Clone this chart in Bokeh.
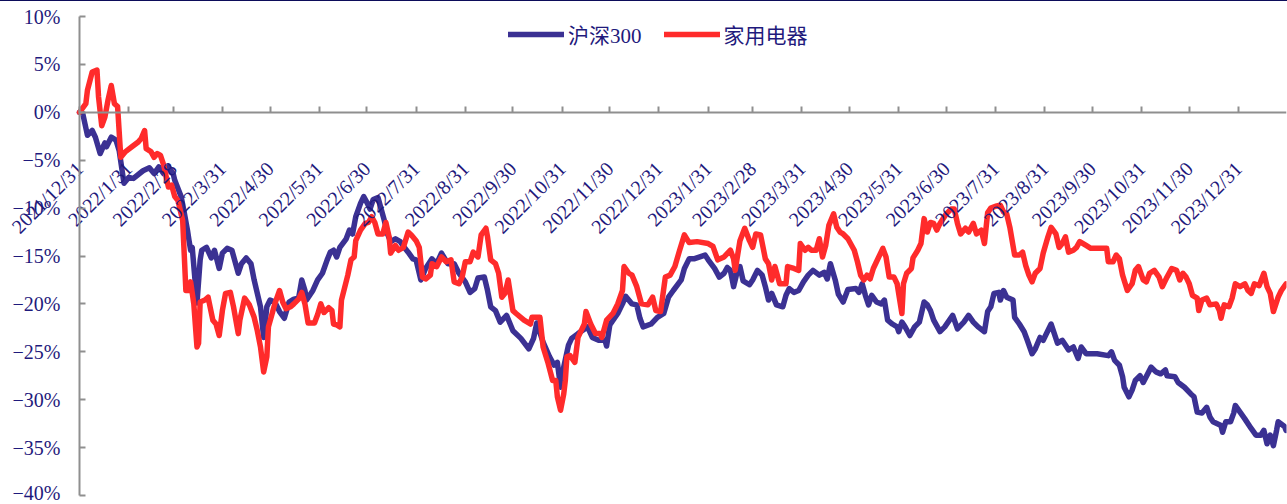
import math
import pandas as pd
from bokeh.plotting import figure
from bokeh.models import Range1d, FixedTicker, Legend, LegendItem, ColumnDataSource
from bokeh.embed import file_html
from bokeh.resources import INLINE

# Cumulative return since 2021-12-31, in percent
hs300_dates = [
    "2021-12-31",
    "2022-01-02", "2022-01-05", "2022-01-08", "2022-01-10", "2022-01-13", "2022-01-16", "2022-01-17", "2022-01-20", "2022-01-23", "2022-01-25", "2022-01-28", "2022-01-31",
    "2022-02-03", "2022-02-09", "2022-02-13", "2022-02-16", "2022-02-19", "2022-02-22", "2022-02-25", "2022-02-28",
    "2022-03-01", "2022-03-05", "2022-03-07", "2022-03-09", "2022-03-10", "2022-03-11", "2022-03-12", "2022-03-15", "2022-03-17", "2022-03-18", "2022-03-21", "2022-03-24", "2022-03-26", "2022-03-29", "2022-03-31",
    "2022-04-03", "2022-04-06", "2022-04-10", "2022-04-12", "2022-04-15", "2022-04-18", "2022-04-20", "2022-04-22", "2022-04-24", "2022-04-26", "2022-04-28", "2022-04-30",
    "2022-05-03", "2022-05-06", "2022-05-09", "2022-05-12", "2022-05-15", "2022-05-18", "2022-05-20", "2022-05-22", "2022-05-23", "2022-05-27", "2022-05-30",
    "2022-06-02", "2022-06-05", "2022-06-07", "2022-06-09", "2022-06-11", "2022-06-13", "2022-06-17", "2022-06-19", "2022-06-21", "2022-06-23", "2022-06-26", "2022-06-28", "2022-06-30",
    "2022-07-02", "2022-07-04", "2022-07-07", "2022-07-09", "2022-07-11", "2022-07-13", "2022-07-15", "2022-07-18", "2022-07-21", "2022-07-24", "2022-07-26", "2022-07-29", "2022-07-31",
    "2022-08-03", "2022-08-06", "2022-08-10", "2022-08-13", "2022-08-16", "2022-08-20", "2022-08-24", "2022-08-27", "2022-08-31",
    "2022-09-03", "2022-09-06", "2022-09-08", "2022-09-12", "2022-09-14", "2022-09-16", "2022-09-19", "2022-09-22", "2022-09-26", "2022-09-30",
    "2022-10-05", "2022-10-10", "2022-10-13", "2022-10-15", "2022-10-19", "2022-10-23", "2022-10-26", "2022-10-28", "2022-10-30",
    "2022-11-01", "2022-11-04", "2022-11-06", "2022-11-10", "2022-11-16", "2022-11-19", "2022-11-23", "2022-11-27", "2022-11-28", "2022-11-30",
    "2022-12-05", "2022-12-08", "2022-12-10", "2022-12-14", "2022-12-17", "2022-12-19", "2022-12-21", "2022-12-26", "2022-12-30",
    "2023-01-03", "2023-01-06", "2023-01-09", "2023-01-14", "2023-01-16", "2023-01-19", "2023-01-22", "2023-01-29", "2023-01-31",
    "2023-02-04", "2023-02-07", "2023-02-10", "2023-02-12", "2023-02-14", "2023-02-16", "2023-02-18", "2023-02-20", "2023-02-22", "2023-02-26", "2023-02-28",
    "2023-03-03", "2023-03-06", "2023-03-08", "2023-03-10", "2023-03-12", "2023-03-15", "2023-03-19", "2023-03-21", "2023-03-23", "2023-03-26", "2023-03-29",
    "2023-04-01", "2023-04-04", "2023-04-07", "2023-04-11", "2023-04-14", "2023-04-16", "2023-04-18", "2023-04-21", "2023-04-23", "2023-04-26", "2023-04-29",
    "2023-05-04", "2023-05-06", "2023-05-08", "2023-05-10", "2023-05-12", "2023-05-14", "2023-05-17", "2023-05-20", "2023-05-22", "2023-05-24", "2023-05-27", "2023-05-30", "2023-05-31",
    "2023-06-02", "2023-06-04", "2023-06-07", "2023-06-10", "2023-06-13", "2023-06-16", "2023-06-18", "2023-06-20", "2023-06-22", "2023-06-26", "2023-06-29",
    "2023-07-04", "2023-07-07", "2023-07-11", "2023-07-14", "2023-07-17", "2023-07-20", "2023-07-24", "2023-07-26", "2023-07-28", "2023-07-30",
    "2023-08-02", "2023-08-03", "2023-08-05", "2023-08-07", "2023-08-11", "2023-08-12", "2023-08-15", "2023-08-18", "2023-08-20", "2023-08-23", "2023-08-25", "2023-08-28", "2023-08-30",
    "2023-09-04", "2023-09-06", "2023-09-08", "2023-09-11", "2023-09-15", "2023-09-18", "2023-09-21", "2023-09-23", "2023-09-26",
    "2023-10-03", "2023-10-10", "2023-10-12", "2023-10-14", "2023-10-17", "2023-10-19", "2023-10-20", "2023-10-23", "2023-10-25", "2023-10-27", "2023-10-30",
    "2023-11-01", "2023-11-06", "2023-11-09", "2023-11-12", "2023-11-15", "2023-11-16", "2023-11-21", "2023-11-23", "2023-11-27",
    "2023-12-01", "2023-12-03", "2023-12-05", "2023-12-08", "2023-12-11", "2023-12-13", "2023-12-15", "2023-12-20", "2023-12-21", "2023-12-23", "2023-12-26", "2023-12-28", "2023-12-29",
    "2024-01-01", "2024-01-04", "2024-01-08", "2024-01-11", "2024-01-14", "2024-01-16", "2024-01-18", "2024-01-20", "2024-01-22", "2024-01-24", "2024-01-25", "2024-01-29", "2024-01-30",
]
hs300_pct = [
    0.0,
    -0.1, -2.4, -1.9, -2.6, -4.3, -3.2, -3.6, -2.6, -2.9, -4.0, -7.4, -6.8,
    -6.9, -6.1, -5.8, -6.4, -5.7, -6.4, -5.7, -6.4,
    -7.1, -8.8, -10.5, -12.3, -13.4, -14.4, -14.1, -19.9, -15.4, -14.4, -14.1, -15.2, -14.4, -16.3, -14.7,
    -14.2, -14.4, -16.8, -15.8, -15.2, -15.8, -17.5, -18.9, -20.3, -23.5, -20.3, -19.6,
    -19.8, -20.8, -21.5, -19.8, -19.5, -19.4, -17.5, -18.6, -19.6, -18.6, -17.5,
    -16.8, -15.4, -14.6, -14.4, -15.1, -14.1, -13.2, -12.3, -12.7, -10.9, -9.5, -8.8, -9.4,
    -10.1, -9.1, -8.9, -10.1, -11.3, -12.7, -13.5, -13.2, -13.5, -14.2, -14.6, -15.3, -15.4,
    -17.5, -16.3, -15.3, -15.8, -14.7, -15.8, -15.8, -16.8, -17.7,
    -18.8, -18.4, -17.3, -17.2, -18.6, -20.3, -20.7, -21.9, -21.2, -22.8,
    -23.6, -24.7, -23.6, -22.0, -24.0, -25.5, -26.4, -26.1, -28.7,
    -26.6, -24.3, -23.6, -23.1, -22.4, -23.5, -23.8, -23.8, -24.4, -22.2,
    -21.0, -20.0, -19.2, -20.0, -20.1, -21.5, -22.4, -22.1, -21.4,
    -21.0, -19.3, -18.6, -17.5, -16.3, -15.3, -15.3, -14.9, -15.4,
    -16.3, -17.2, -16.8, -16.2, -16.5, -18.2, -16.8, -16.1, -17.6, -18.0, -17.5,
    -16.5, -17.0, -18.2, -19.6, -18.9, -20.1, -20.3, -19.1, -18.4, -18.8, -18.6,
    -17.7, -17.0, -16.5, -17.0, -16.7, -17.4, -15.8, -17.5, -19.0, -19.8, -18.5,
    -18.4, -18.8, -17.9, -19.1, -20.1, -19.1, -19.8, -20.0, -19.6, -21.7, -22.1, -22.4, -22.9,
    -21.9, -22.4, -23.3, -22.4, -21.9, -19.8, -20.1, -20.7, -21.7, -22.9, -22.4,
    -21.2, -22.6, -21.9, -21.2, -21.9, -22.4, -22.9, -20.8, -20.3, -18.9,
    -18.8, -19.6, -18.6, -19.3, -19.6, -21.4, -22.1, -22.9, -23.8, -25.2, -24.7, -23.5, -23.8,
    -22.1, -23.1, -24.1, -23.8, -24.8, -24.5, -25.7, -24.5, -25.2,
    -25.2, -25.4, -25.0, -25.9, -26.4, -27.6, -28.7, -29.7, -29.0, -28.0, -27.5,
    -28.2, -26.6, -27.1, -27.3, -26.9, -27.5, -27.6, -28.2, -28.7,
    -29.4, -29.7, -31.3, -31.4, -30.8, -31.8, -32.3, -32.7, -33.4, -32.3, -32.3, -31.4, -30.6,
    -31.3, -32.0, -33.0, -33.7, -33.7, -33.2, -34.6, -33.7, -34.8, -33.2, -32.3, -32.8, -33.2,
]

appliance_dates = [
    "2021-12-31",
    "2022-01-04", "2022-01-05", "2022-01-08", "2022-01-11", "2022-01-12", "2022-01-14", "2022-01-16", "2022-01-18", "2022-01-20", "2022-01-22", "2022-01-24", "2022-01-26", "2022-01-29",
    "2022-02-02", "2022-02-06", "2022-02-08", "2022-02-10", "2022-02-11", "2022-02-14", "2022-02-16", "2022-02-18", "2022-02-20", "2022-02-22", "2022-02-25", "2022-02-27",
    "2022-03-01", "2022-03-03", "2022-03-06", "2022-03-08", "2022-03-10", "2022-03-11", "2022-03-13", "2022-03-15", "2022-03-16", "2022-03-17", "2022-03-20", "2022-03-22", "2022-03-25", "2022-03-27", "2022-03-29", "2022-03-31",
    "2022-04-02", "2022-04-05", "2022-04-07", "2022-04-10", "2022-04-11", "2022-04-14", "2022-04-17", "2022-04-20", "2022-04-22", "2022-04-24", "2022-04-26", "2022-04-28", "2022-04-29",
    "2022-05-01", "2022-05-03", "2022-05-06", "2022-05-08", "2022-05-10", "2022-05-13", "2022-05-15", "2022-05-18", "2022-05-20", "2022-05-22", "2022-05-24", "2022-05-28", "2022-05-30",
    "2022-06-01", "2022-06-03", "2022-06-06", "2022-06-08", "2022-06-09", "2022-06-11", "2022-06-13", "2022-06-14", "2022-06-18", "2022-06-20", "2022-06-22", "2022-06-23", "2022-06-26", "2022-06-29",
    "2022-07-01", "2022-07-03", "2022-07-05", "2022-07-07", "2022-07-10", "2022-07-12", "2022-07-14", "2022-07-15", "2022-07-18", "2022-07-20", "2022-07-23", "2022-07-26", "2022-07-28", "2022-07-31",
    "2022-08-02", "2022-08-04", "2022-08-06", "2022-08-09", "2022-08-10", "2022-08-13", "2022-08-16", "2022-08-19", "2022-08-22", "2022-08-24", "2022-08-27", "2022-08-29", "2022-08-31",
    "2022-09-03", "2022-09-05", "2022-09-08", "2022-09-10", "2022-09-13", "2022-09-14", "2022-09-16", "2022-09-19", "2022-09-21", "2022-09-23", "2022-09-25", "2022-09-27", "2022-09-30",
    "2022-10-02", "2022-10-07", "2022-10-11", "2022-10-12", "2022-10-17", "2022-10-19", "2022-10-22", "2022-10-25", "2022-10-27", "2022-10-28", "2022-10-30",
    "2022-11-01", "2022-11-02", "2022-11-03", "2022-11-05", "2022-11-08", "2022-11-10", "2022-11-14", "2022-11-15", "2022-11-18", "2022-11-21", "2022-11-24", "2022-11-25", "2022-11-28",
    "2022-12-02", "2022-12-05", "2022-12-08", "2022-12-09", "2022-12-12", "2022-12-14", "2022-12-17", "2022-12-20", "2022-12-24", "2022-12-27", "2022-12-29",
    "2023-01-01", "2023-01-04", "2023-01-07", "2023-01-10", "2023-01-13", "2023-01-16", "2023-01-19", "2023-01-24", "2023-01-31",
    "2023-02-03", "2023-02-06", "2023-02-10", "2023-02-14", "2023-02-16", "2023-02-17", "2023-02-20", "2023-02-23", "2023-02-26", "2023-02-28",
    "2023-03-02", "2023-03-05", "2023-03-08", "2023-03-10", "2023-03-12", "2023-03-14", "2023-03-17", "2023-03-21", "2023-03-22", "2023-03-26", "2023-03-29", "2023-03-30",
    "2023-04-02", "2023-04-04", "2023-04-06", "2023-04-09", "2023-04-11", "2023-04-13", "2023-04-15", "2023-04-17", "2023-04-20", "2023-04-22", "2023-04-24", "2023-04-26", "2023-04-29",
    "2023-05-03", "2023-05-05", "2023-05-07", "2023-05-09", "2023-05-11", "2023-05-13", "2023-05-15", "2023-05-17", "2023-05-21", "2023-05-23", "2023-05-25", "2023-05-28", "2023-05-30",
    "2023-06-02", "2023-06-03", "2023-06-05", "2023-06-08", "2023-06-09", "2023-06-12", "2023-06-14", "2023-06-16", "2023-06-18", "2023-06-20", "2023-06-22", "2023-06-24", "2023-06-26", "2023-06-28", "2023-06-30",
    "2023-07-03", "2023-07-05", "2023-07-07", "2023-07-09", "2023-07-12", "2023-07-14", "2023-07-17", "2023-07-19", "2023-07-22", "2023-07-24", "2023-07-26", "2023-07-28", "2023-07-31",
    "2023-08-03", "2023-08-05", "2023-08-07", "2023-08-09", "2023-08-12", "2023-08-15", "2023-08-17", "2023-08-19", "2023-08-21", "2023-08-23", "2023-08-25", "2023-08-28", "2023-08-30",
    "2023-09-02", "2023-09-04", "2023-09-07", "2023-09-09", "2023-09-11", "2023-09-13", "2023-09-15", "2023-09-18", "2023-09-20", "2023-09-22", "2023-09-26", "2023-09-29",
    "2023-10-09", "2023-10-10", "2023-10-13", "2023-10-15", "2023-10-17", "2023-10-19", "2023-10-22", "2023-10-25", "2023-10-27", "2023-10-29",
    "2023-11-01", "2023-11-03", "2023-11-05", "2023-11-08", "2023-11-11", "2023-11-13", "2023-11-16", "2023-11-19", "2023-11-22", "2023-11-24", "2023-11-26", "2023-11-28", "2023-11-30",
    "2023-12-02", "2023-12-05", "2023-12-06", "2023-12-08", "2023-12-11", "2023-12-13", "2023-12-17", "2023-12-19", "2023-12-20", "2023-12-22", "2023-12-25", "2023-12-27", "2023-12-29",
    "2024-01-01", "2024-01-04", "2024-01-06", "2024-01-08", "2024-01-10", "2024-01-13", "2024-01-16", "2024-01-18", "2024-01-20", "2024-01-22", "2024-01-25", "2024-01-27", "2024-01-30",
]
appliance_pct = [
    0.0,
    0.9, 2.3, 4.2, 4.4, 1.6, -1.4, -0.5, 1.3, 2.8, 0.9, 0.6, -4.7, -4.1,
    -3.6, -3.1, -2.7, -1.9, -3.8, -4.1, -4.7, -4.3, -4.5, -5.5, -7.8, -7.6,
    -8.8, -9.2, -11.3, -18.6, -18.6, -17.7, -20.0, -24.5, -24.1, -19.8, -19.6, -19.3, -21.7, -22.1, -23.3, -20.7,
    -18.9, -18.8, -20.3, -23.1, -21.7, -19.4, -20.1, -21.4, -22.8, -24.5, -27.1, -25.5, -22.4,
    -21.2, -20.0, -18.6, -19.8, -20.5, -20.3, -20.0, -19.5, -18.8, -20.0, -22.0, -22.0, -21.1,
    -20.0, -20.9, -20.4, -20.7, -22.1, -22.2, -22.4, -19.6, -17.0, -15.4, -15.1, -13.4, -12.3, -11.6,
    -11.5, -10.9, -11.5, -12.7, -12.7, -11.5, -13.0, -14.7, -13.9, -14.4, -14.1, -12.5, -12.8, -13.4,
    -14.1, -17.2, -17.4, -17.0, -15.8, -16.1, -15.1, -15.6, -15.4, -17.7, -17.9, -17.2, -15.6,
    -15.6, -14.6, -15.1, -12.8, -12.1, -13.0, -15.4, -15.8, -16.8, -19.3, -18.9, -17.5, -20.7,
    -21.0, -21.7, -22.1, -21.4, -21.4, -24.5, -26.1, -28.0, -28.0, -29.7, -31.1,
    -29.4, -28.0, -25.5, -25.4, -26.1, -23.5, -22.1, -20.8, -22.1, -23.1, -23.1, -23.5, -21.7,
    -21.0, -20.0, -18.6, -16.1, -16.8, -17.0, -18.2, -20.0, -20.1, -19.3, -20.7,
    -20.8, -17.2, -17.0, -16.1, -14.4, -12.8, -13.6, -13.5, -13.7,
    -14.0, -15.4, -15.1, -14.4, -15.3, -16.5, -13.4, -12.1, -13.4, -14.1,
    -12.7, -12.8, -15.3, -15.8, -17.5, -16.1, -17.9, -17.9, -16.1, -16.3, -16.5, -13.7,
    -14.4, -14.1, -14.4, -14.4, -13.2, -15.1, -13.9, -11.8, -10.6, -12.0, -12.5, -12.7, -13.2,
    -14.4, -15.6, -17.0, -17.5, -17.0, -17.4, -16.3, -15.6, -14.2, -15.1, -17.2, -17.2, -17.9,
    -21.0, -17.9, -16.8, -16.3, -15.2, -14.4, -13.7, -11.1, -12.5, -11.5, -11.6, -12.3, -11.6, -11.1, -10.6,
    -10.1, -10.1, -11.6, -12.7, -12.1, -12.5, -11.6, -12.7, -12.3, -13.7, -10.5, -10.0, -9.8,
    -9.7, -10.4, -10.6, -12.0, -14.9, -14.9, -14.6, -16.0, -17.0, -17.7, -16.8, -16.3, -14.7,
    -13.0, -12.0, -12.7, -14.1, -13.7, -13.0, -14.6, -14.4, -14.1, -13.5, -13.9, -14.2,
    -14.2, -15.6, -15.6, -14.9, -15.3, -17.0, -18.6, -17.9, -16.5, -16.1,
    -17.5, -17.7, -16.8, -16.5, -17.2, -18.2, -17.2, -16.3, -16.5, -17.5, -16.8, -17.2, -17.9,
    -19.1, -19.4, -20.7, -19.6, -19.4, -20.1, -20.0, -20.7, -21.5, -20.1, -20.3, -19.4, -17.9,
    -18.2, -17.9, -18.6, -18.9, -17.9, -18.1, -16.8, -18.2, -18.9, -20.8, -19.3, -18.6, -17.9,
]

# Month-end ticks on the date axis and their labels
month_end_ticks = [
    "2021-12-31", "2022-01-31", "2022-02-28", "2022-03-31", "2022-04-30", "2022-05-31", "2022-06-30",
    "2022-07-31", "2022-08-31", "2022-09-30", "2022-10-31", "2022-11-30", "2022-12-31",
    "2023-01-31", "2023-02-28", "2023-03-31", "2023-04-30", "2023-05-31", "2023-06-30",
    "2023-07-31", "2023-08-31", "2023-09-30", "2023-10-31", "2023-11-30", "2023-12-31",
]
month_end_labels = [
    "2021/12/31", "2022/1/31", "2022/2/28", "2022/3/31", "2022/4/30", "2022/5/31", "2022/6/30",
    "2022/7/31", "2022/8/31", "2022/9/30", "2022/10/31", "2022/11/30", "2022/12/31",
    "2023/1/31", "2023/2/28", "2023/3/31", "2023/4/30", "2023/5/31", "2023/6/30",
    "2023/7/31", "2023/8/31", "2023/9/30", "2023/10/31", "2023/11/30", "2023/12/31",
]
pct_ticks = [10, 5, 0, -5, -10, -15, -20, -25, -30, -35, -40]
pct_labels = ["10%", "5%", "0%", "\u22125%", "\u221210%", "\u221215%", "\u221220%",
              "\u221225%", "\u221230%", "\u221235%", "\u221240%"]

BLUE = "#3b3193"
RED = "#ff2b2b"
TEXT = "#1f1a7c"
AXIS = "#8f8f8f"
SERIF = "'Liberation Serif', 'Noto Sans CJK SC'"


def to_ms(d):
    return pd.Timestamp(d).value / 1e6


axis_start = pd.Timestamp("2021-12-31")
axis_end = pd.Timestamp("2024-01-30 06:00")
# the frame covers the whole canvas; pad the ranges so the axes sit inside it
left_pad = pd.Timedelta(days=49.76)
px_per_pct = 9.58
y_lo = -40 - 9 / px_per_pct
y_hi = 10 + 15 / px_per_pct

p = figure(
    width=1287, height=503,
    x_axis_type="datetime",
    x_range=Range1d(axis_start - left_pad, axis_end),
    y_range=Range1d(y_lo, y_hi),
    output_backend="svg", toolbar_location=None,
    min_border_left=0, min_border_right=1, min_border_top=0, min_border_bottom=0,
)
p.styles = {"border-top": "1px solid #0c0c5a"}
p.outline_line_color = None
p.xgrid.visible = False
p.ygrid.visible = False
p.background_fill_color = "white"
p.border_fill_color = "white"

src_hs = ColumnDataSource(dict(date=pd.to_datetime(hs300_dates), pct=hs300_pct))
src_ap = ColumnDataSource(dict(date=pd.to_datetime(appliance_dates), pct=appliance_pct))

r_hs = p.line("date", "pct", source=src_hs, line_color=BLUE, line_width=5.5,
              line_join="round", line_cap="round")
r_ap = p.line("date", "pct", source=src_ap, line_color=RED, line_width=5.5,
              line_join="round", line_cap="round")

# x axis sits on the 0% line, labels hang below at 45 degrees
tick_ms = [to_ms(d) for d in month_end_ticks]
xa = p.xaxis[0]
xa.ticker = FixedTicker(ticks=tick_ms)
xa.major_label_overrides = dict(zip(tick_ms, month_end_labels))
xa.fixed_location = 0
xa.bounds = (to_ms(axis_start), to_ms(axis_end))
xa.major_label_orientation = math.pi / 4
xa.major_tick_in = 6
xa.major_tick_out = 0
xa.minor_tick_in = 0
xa.minor_tick_out = 0
xa.axis_line_color = AXIS
xa.axis_line_width = 2
xa.major_tick_line_color = AXIS
xa.major_tick_line_width = 2
xa.major_label_standoff = 53
xa.major_label_text_font = SERIF
xa.major_label_text_font_size = "20px"
xa.major_label_text_color = TEXT

# y axis on the first date
ya = p.yaxis[0]
ya.ticker = FixedTicker(ticks=pct_ticks)
ya.major_label_overrides = dict(zip(pct_ticks, pct_labels))
ya.fixed_location = to_ms(axis_start)
ya.bounds = (-40, 10)
ya.major_tick_in = 6
ya.major_tick_out = 0
ya.minor_tick_in = 0
ya.minor_tick_out = 0
ya.axis_line_color = AXIS
ya.axis_line_width = 2
ya.major_tick_line_color = AXIS
ya.major_tick_line_width = 2
ya.major_label_standoff = 19
ya.major_label_text_font = SERIF
ya.major_label_text_font_size = "20px"
ya.major_label_text_color = TEXT

legend = Legend(
    items=[LegendItem(label="沪深300", renderers=[r_hs]),
           LegendItem(label="家用电器", renderers=[r_ap])],
    orientation="horizontal", location=(508, 455),
    border_line_color=None, background_fill_alpha=0,
    padding=0, margin=0, spacing=22,
    glyph_width=56, glyph_height=20, label_height=20, label_standoff=4,
    label_text_font=SERIF, label_text_font_size="21px", label_text_color=TEXT,
)
p.add_layout(legend)

open("out.html", "w").write(file_html(p, INLINE))
